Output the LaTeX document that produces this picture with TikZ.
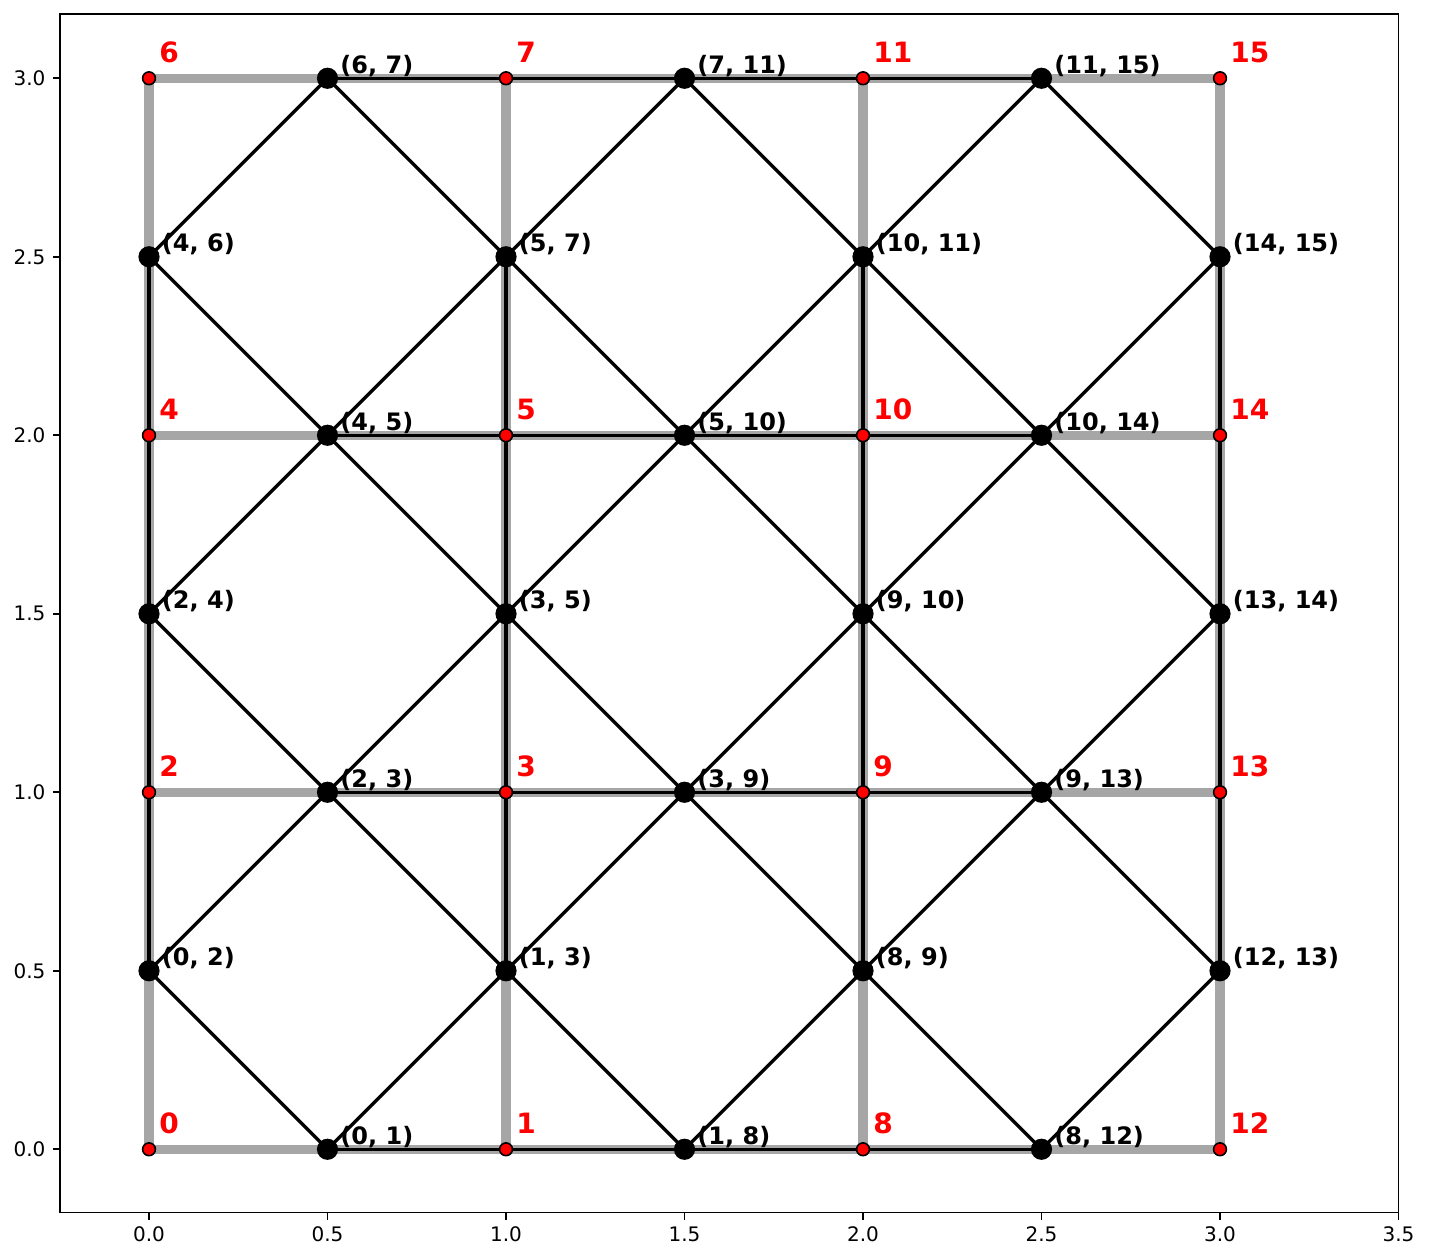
\documentclass[tikz,border=0pt]{standalone}
\usepackage{fontspec}
\setmainfont{DejaVu Sans}
\usetikzlibrary{calc}
\pgfdeclarelayer{bg}
\pgfsetlayers{bg,main}
\definecolor{edgegray}{HTML}{A6A6A6}
\begin{document}
\begin{tikzpicture}[x=178.5pt,y=178.5pt,
  vdot/.style={circle,fill=red,draw=black,line width=0.8pt,minimum size=6.4pt,inner sep=0pt},
  edot/.style={circle,fill=black,minimum size=10.6pt,inner sep=0pt},
  gline/.style={draw=edgegray,line width=4.6pt},
  bline/.style={draw=black,line width=1.7pt},
  vlab/.style={text=red,font=\fontsize{14}{16}\selectfont\bfseries,anchor=base west,inner sep=0pt},
  elab/.style={text=black,font=\fontsize{12}{14}\selectfont\bfseries,anchor=base west,inner sep=0pt},
  ticklab/.style={font=\fontsize{10}{12}\selectfont,inner sep=0pt},
  axisline/.style={draw=black,line width=0.8pt},
]
\useasboundingbox (-0.41737,-0.3101) rectangle (3.5854,3.2193);

% axes frame and ticks
\draw[axisline] (-0.25,-0.1776) rectangle (3.5,3.1801);
\foreach \t/\s in {0/0.0,0.5/0.5,1/1.0,1.5/1.5,2/2.0,2.5/2.5,3/3.0,3.5/3.5}{
  \draw[axisline] (\t,-0.1776) -- ++(0,-3.5pt);
  \node[ticklab,anchor=base] (xt\s) at ([yshift=-14.65pt]\t,-0.1776) {\s};
}
\foreach \t/\s in {0/0.0,0.5/0.5,1/1.0,1.5/1.5,2/2.0,2.5/2.5,3/3.0}{
  \draw[axisline] (-0.25,\t) -- ++(-3.5pt,0);
  \node[ticklab,anchor=east] (yt\s) at ([xshift=-7pt]-0.25,\t) {\s};
}

% grid vertices
\foreach \n/\x/\y in {0/0/0,1/1/0,8/2/0,12/3/0,2/0/1,3/1/1,9/2/1,13/3/1,4/0/2,5/1/2,10/2/2,14/3/2,6/0/3,7/1/3,11/2/3,15/3/3}{
  \node[vdot] (v\n) at (\x,\y) {};
}

% line-graph nodes (edges of the grid)
\foreach \a/\b in {0/1,1/8,8/12,2/3,3/9,9/13,4/5,5/10,10/14,6/7,7/11,11/15,0/2,2/4,4/6,1/3,3/5,5/7,8/9,9/10,10/11,12/13,13/14,14/15}{
  \node[edot] (e\a-\b) at ($(v\a.center)!0.5!(v\b.center)$) {};
}

\begin{pgfonlayer}{bg}
  \foreach \a/\b in {0/1,1/8,8/12,2/3,3/9,9/13,4/5,5/10,10/14,6/7,7/11,11/15,0/2,2/4,4/6,1/3,3/5,5/7,8/9,9/10,10/11,12/13,13/14,14/15}{
    \draw[gline] (v\a.center) -- (v\b.center);
  }
  \foreach \p/\q in {0-1/0-2, 0-1/1-8, 0-1/1-3, 1-8/1-3, 1-8/8-12, 1-8/8-9, 8-12/8-9, 8-12/12-13,
    0-2/2-3, 0-2/2-4, 2-3/2-4, 2-3/3-9, 2-3/1-3, 2-3/3-5, 3-9/1-3, 3-9/3-5, 1-3/3-5,
    3-9/9-13, 3-9/8-9, 3-9/9-10, 9-13/8-9, 9-13/9-10, 8-9/9-10, 9-13/12-13, 9-13/13-14, 12-13/13-14,
    2-4/4-5, 2-4/4-6, 4-5/4-6, 4-5/5-10, 4-5/3-5, 4-5/5-7, 5-10/3-5, 5-10/5-7, 3-5/5-7,
    5-10/10-14, 5-10/9-10, 5-10/10-11, 10-14/9-10, 10-14/10-11, 9-10/10-11, 10-14/13-14, 10-14/14-15, 13-14/14-15,
    4-6/6-7, 6-7/7-11, 6-7/5-7, 7-11/5-7, 7-11/11-15, 7-11/10-11, 11-15/10-11, 11-15/14-15}{
    \draw[bline] (e\p.center) -- (e\q.center);
  }
\end{pgfonlayer}

% labels
\foreach \n in {0,1,2,3,4,5,6,7,8,9,10,11,12,13,14,15}{
  \node[vlab] (lv\n) at ([xshift=5pt,yshift=7.8pt]v\n.center) {\n};
}
\foreach \a/\b in {0/1,1/8,8/12,2/3,3/9,9/13,4/5,5/10,10/14,6/7,7/11,11/15,0/2,2/4,4/6,1/3,3/5,5/7,8/9,9/10,10/11,12/13,13/14,14/15}{
  \node[elab] (le\a-\b) at ([xshift=6.25pt,yshift=2.5pt]e\a-\b.center) {(\a, \b)};
}
\end{tikzpicture}
\end{document}
